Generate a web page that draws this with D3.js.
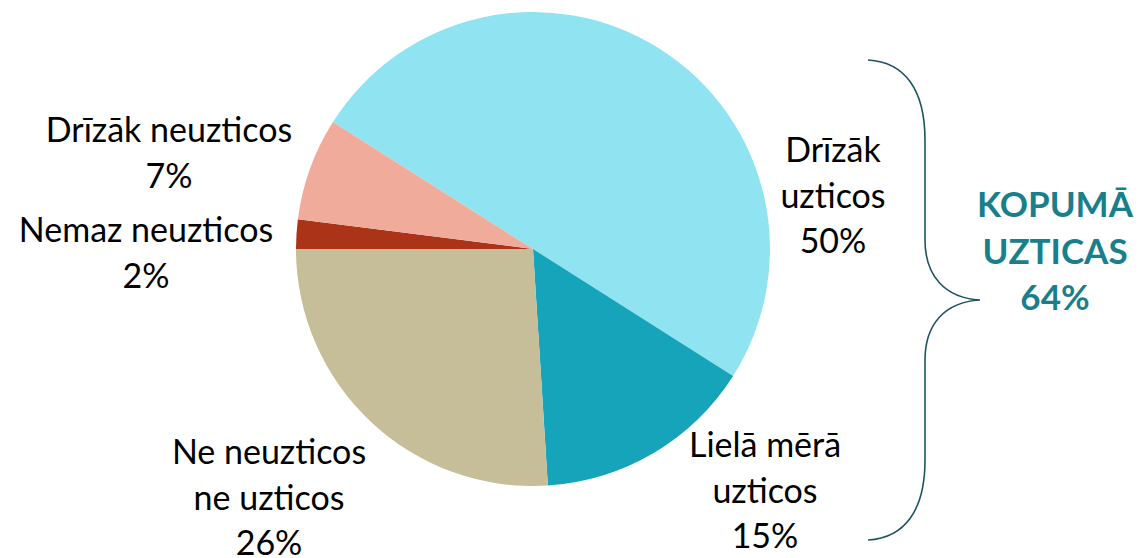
<!DOCTYPE html>
<html>
<head>
<meta charset="utf-8">
<script src="https://cdn.jsdelivr.net/npm/d3@7"></script>
<style>
  html, body { margin: 0; padding: 0; background: #fff; }
  svg { display: block; font-family: Lato, "Open Sans", sans-serif; }
</style>
</head>
<body>
<svg id="chart" width="1138" height="558"></svg>
<script>

// chart data
const categories = ['Drīzāk uzticos', 'Lielā mērā uzticos', 'Ne neuzticos ne uzticos', 'Nemaz neuzticos', 'Drīzāk neuzticos'];
const values = [50, 15, 26, 2, 7];
const colors = ['#90E4F1', '#16A4BB', '#C5BE99', '#AB3418', '#F0AB9B'];
const totalLabel = ['KOPUMĀ', 'UZTICAS', '64%'];

// how each category label wraps
const labelLines = [
  ['Drīzāk', 'uzticos'],
  ['Lielā mērā', 'uzticos'],
  ['Ne neuzticos', 'ne uzticos'],
  ['Nemaz neuzticos'],
  ['Drīzāk neuzticos']
];

const svg = d3.select('#chart');

const cx = 533, cy = 249, radius = 237;
const start = -57.6 * Math.PI / 180;

// label anchor offsets from the pie centre (first baseline)
const labelOffset = [
  [300, -87], [232, 208], [-264, 215], [-387, -7], [-364, -107]
];

const pie = d3.pie()
  .sort(null)
  .value(function(d) { return d; })
  .startAngle(start)
  .endAngle(start + 2 * Math.PI);

const arc = d3.arc().innerRadius(0).outerRadius(radius);

const g = svg.append('g').attr('transform', 'translate(' + cx + ',' + cy + ')');

g.selectAll('path.slice')
  .data(pie(values))
  .enter()
  .append('path')
  .attr('class', 'slice')
  .attr('d', arc)
  .attr('fill', function(d, i) { return colors[i]; });

const lineH = 45.5;

g.selectAll('text.label')
  .data(pie(values))
  .enter()
  .append('text')
  .attr('class', 'label')
  .attr('text-anchor', 'middle')
  .attr('font-size', 34)
  .attr('fill', '#000')
  .each(function(d, i) {
    const lines = labelLines[i].concat([values[i] + '%']);
    d3.select(this)
      .selectAll('tspan')
      .data(lines)
      .enter()
      .append('tspan')
      .attr('x', labelOffset[i][0])
      .attr('y', function(t, j) { return labelOffset[i][1] + j * lineH; })
      .text(String);
  });

// brace on the right
svg.append('path')
  .attr('d', 'M868,60 C905,62 925,90 925,140 L925,240 C925,276 945,298 980,300 ' +
             'C945,302 925,324 925,360 L925,460 C925,510 905,538 868,540')
  .attr('fill', 'none')
  .attr('stroke', '#1F5560')
  .attr('stroke-width', 1.6);

svg.append('text')
  .attr('text-anchor', 'middle')
  .attr('font-size', 35)
  .attr('font-weight', 'bold')
  .attr('fill', '#197F8C')
  .selectAll('tspan')
  .data(totalLabel)
  .enter()
  .append('tspan')
  .attr('x', 1055)
  .attr('y', function(t, j) { return 217 + j * 46.5; })
  .text(String);

</script>
</body>
</html>
